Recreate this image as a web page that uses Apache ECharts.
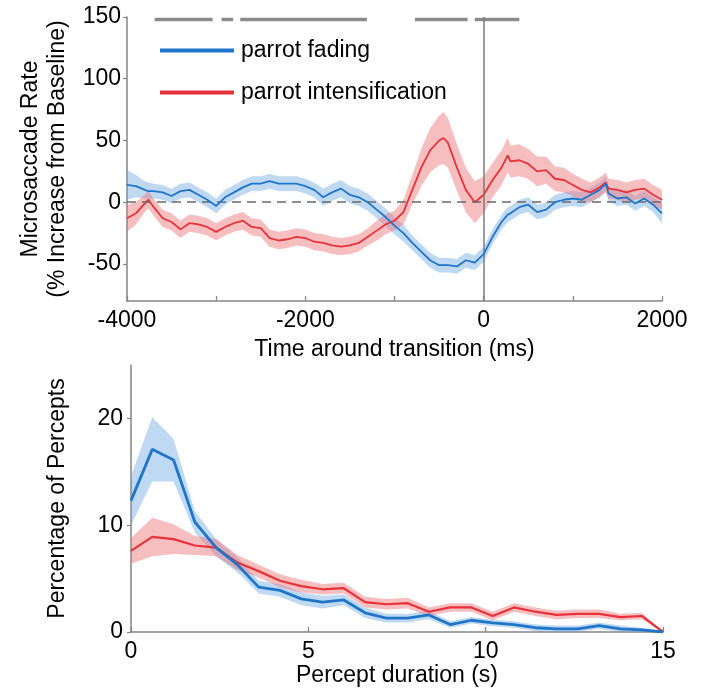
<!DOCTYPE html>
<html>
<head>
<meta charset="utf-8">
<script src="https://cdn.jsdelivr.net/npm/echarts@6/dist/echarts.min.js"></script>
<style>
html,body{margin:0;padding:0;background:#fff;}
#c{width:711px;height:688px;}
</style>
</head>
<body>
<div id="c"></div>
<script>
// ---------- Top panel data (time around transition, ms) ----------
var times = [-4000,-3900,-3800,-3760,-3700,-3600,-3500,-3400,-3300,-3200,-3100,-3000,-2900,-2800,-2700,-2600,-2500,-2400,-2300,-2200,-2100,-2000,-1900,-1800,-1700,-1600,-1500,-1400,-1300,-1200,-1100,-1000,-900,-800,-700,-600,-500,-450,-400,-300,-200,-100,0,100,200,270,300,400,500,600,700,800,900,1000,1100,1200,1300,1370,1400,1500,1600,1700,1800,1900,2000];
var fadingRate = [14,13,10,9,9,8,5,9,10,6,2,-3,4,8,12,15,15,17,15,15,15,13,10,4,8,11,6,4,0,-6,-12,-19,-25,-33,-40,-47,-51,-51,-51,-52,-47,-49,-42,-28,-16,-10,-9,-4,-2,-8,-6,0,2,3,2,6,10,15,7,3,4,-1,3,-2,-9];
var fadingErr  = [12,9,7,7,6,6,6,6,6,6,6,6,6,6,6,6,6,6,6,6,6,6,6,7,7,7,7,7,7,7,7,7,7,6,6,6,6,6,6,6,6,6,6,6,6,6,6,6,6,6,6,6,6,6,6,6,6,6,6,6,6,6,6,6,8];
var intensRate = [-13,-9,-1,2,-4,-13,-16,-22,-17,-18,-20,-24,-20,-17,-15,-20,-21,-29,-31,-30,-28,-29,-32,-33,-35,-36,-35,-33,-28,-23,-18,-15,-8,10,28,42,50,52,48,28,10,0,6,18,28,38,33,34,31,25,26,19,18,14,10,8,12,16,11,10,8,10,11,6,2];
var intensErr  = [11,9,7,7,7,7,7,7,7,7,7,7,7,7,7,7,7,7,7,7,7,7,7,7,7,7,7,7,7,8,8,8,10,12,15,18,20,21,20,19,18,17,15,14,14,14,13,13,12,12,11,10,10,9,9,8,8,8,8,8,8,8,8,8,8];
var sigSegments = [[-3690,-3040],[-2940,-2810],[-2730,-1310],[-770,-180],[-100,400]];
var sigLevel = 148;
var topYTicks = [-50,0,50,100,150];
var topXTicks = [-4000,-3000,-2000,-1000,0,1000,2000];
var topXLabels = [-4000,-2000,0,2000];

// ---------- Bottom panel data (percept duration, s) ----------
var durations = [0,0.6,1.2,1.8,2.4,3.0,3.6,4.2,4.8,5.4,6.0,6.6,7.2,7.8,8.4,9.0,9.6,10.2,10.8,11.4,12.0,12.6,13.2,13.8,14.4,15.0];
var fadingPct = [12.3,17.1,16.1,10.3,7.9,6.3,4.2,3.9,3.1,2.8,3.0,1.8,1.3,1.3,1.6,0.7,1.1,0.85,0.7,0.4,0.3,0.3,0.6,0.3,0.2,0];
var fadingPctErr = [2.3,3.0,2.0,1.0,0.8,0.7,0.6,0.6,0.6,0.6,0.5,0.5,0.4,0.4,0.4,0.3,0.3,0.3,0.3,0.3,0.3,0.3,0.3,0.3,0.2,0];
var intensPct = [7.6,8.9,8.7,8.1,7.9,6.5,5.7,4.8,4.3,4.0,4.1,2.8,2.6,2.7,1.9,2.3,2.3,1.5,2.3,1.9,1.6,1.7,1.7,1.4,1.5,0];
var intensPctErr = [1.2,1.8,1.4,0.9,0.8,0.7,0.6,0.6,0.6,0.5,0.5,0.5,0.5,0.5,0.4,0.4,0.4,0.4,0.4,0.4,0.4,0.4,0.4,0.3,0.3,0];
var bottomYTicks = [0,10,20];

var BLUE = '#1f76c8', RED = '#e8323a';
var BLUE_BAND = 'rgba(95,160,222,0.40)', RED_BAND = 'rgba(238,110,116,0.45)';
var AXIS = '#858585';
var FONT = '"Liberation Sans", Arial, sans-serif';
var FS = 23;

function pairs(xs, ys){ return xs.map(function(x,i){ return [x, ys[i]]; }); }

// Shaded error band drawn as one polygon through the axis scales (api.coord)
function band(xs, ys, es, color, xi){
  var data = xs.map(function(x,i){ return [x, ys[i]-es[i], ys[i]+es[i]]; });
  return {
    type:'custom', xAxisIndex:xi, yAxisIndex:xi, silent:true, z:1,
    encode:{x:0, y:[1,2]},
    data: data,
    renderItem: function(params, api){
      if (params.dataIndex !== 0) return null;
      var up = [], dn = [];
      for (var i=0;i<data.length;i++){
        up.push(api.coord([data[i][0], data[i][2]]));
        dn.push(api.coord([data[i][0], data[i][1]]));
      }
      return {type:'polygon', shape:{points: up.concat(dn.reverse())}, style:{fill:color}};
    }
  };
}

var sigData = [];
sigSegments.forEach(function(s){ sigData.push([s[0], sigLevel],[s[1], sigLevel],[s[1], null]); });

var textStyle = {fontFamily: FONT, fontSize: FS, color:'#000'};
function plain(v){ return String(v); }

var option = {
  animation: false,
  backgroundColor: '#fff',
  textStyle: {fontFamily: FONT},
  legend: {
    data: ['parrot fading','parrot intensification'],
    orient: 'vertical', left: 155, top: 34,
    itemWidth: 74, itemHeight: 4, itemGap: 19, icon: 'rect',
    textStyle: {fontFamily: FONT, fontSize: FS, color:'#000', padding:[0,0,0,2]},
    selectedMode: false
  },
  grid: [
    {left:127, right:49, top:17, bottom:387},
    {left:131, right:48, top:365, bottom:56}
  ],
  xAxis: [
    {type:'value', gridIndex:0, min:-4000, max:2000,
     name:'Time around transition (ms)', nameLocation:'middle', nameGap:37,
     nameTextStyle: textStyle,
     axisLine:{show:true, onZero:false, lineStyle:{color:AXIS, width:1.5}},
     axisTick:{show:true, inside:true, length:5, customValues: topXTicks, lineStyle:{color:AXIS, width:1.2}},
     axisLabel:{customValues: topXLabels, formatter: plain, margin:8, fontFamily:FONT, fontSize:FS, color:'#000'},
     splitLine:{show:false}},
    {type:'value', gridIndex:1, min:0, max:15, interval:5,
     name:'Percept duration (s)', nameLocation:'middle', nameGap:30,
     nameTextStyle: textStyle,
     axisLine:{show:true, onZero:false, lineStyle:{color:AXIS, width:1.5}},
     axisTick:{show:true, inside:true, length:5, lineStyle:{color:AXIS, width:1.2}},
     axisLabel:{formatter: plain, margin:8, fontFamily:FONT, fontSize:FS, color:'#000'},
     splitLine:{show:false}}
  ],
  yAxis: [
    {type:'value', gridIndex:0, min:-80, max:150,
     name:'Microsaccade Rate\n(% Increase from Baseline)', nameLocation:'middle', nameGap:56, nameRotate:90,
     nameTextStyle: {fontFamily:FONT, fontSize:FS, color:'#000', lineHeight:27},
     axisLine:{show:true, onZero:false, lineStyle:{color:AXIS, width:1.5}},
     axisTick:{show:true, inside:false, length:4, customValues: topYTicks, lineStyle:{color:AXIS, width:1.2}},
     axisLabel:{customValues: topYTicks, formatter: plain, margin:6, fontFamily:FONT, fontSize:FS, color:'#000'},
     splitLine:{show:false}},
    {type:'value', gridIndex:1, min:0, max:25,
     name:'Percentage of Percepts', nameLocation:'middle', nameGap:62, nameRotate:90,
     nameTextStyle: textStyle,
     axisLine:{show:true, onZero:false, lineStyle:{color:AXIS, width:1.5}},
     axisTick:{show:true, inside:false, length:4, customValues: bottomYTicks, lineStyle:{color:AXIS, width:1.2}},
     axisLabel:{customValues: bottomYTicks, formatter: plain, margin:8, fontFamily:FONT, fontSize:FS, color:'#000'},
     splitLine:{show:false}}
  ],
  series: [
    band(times,fadingRate,fadingErr,BLUE_BAND,0),
    band(times,intensRate,intensErr,RED_BAND,0),
    {name:'sig', type:'line', xAxisIndex:0, yAxisIndex:0, data:sigData, connectNulls:false,
     symbol:'none', lineStyle:{color:'#8a8a8a', width:3.5}, silent:true, z:3,
     markLine:{symbol:'none', silent:true, label:{show:false},
       data:[
         {xAxis:0, lineStyle:{color:'#7a7a7a', type:'solid', width:1.5}},
         {yAxis:0, lineStyle:{color:'#6a6a6a', type:[9,6], width:1.5}}
       ]}},
    {name:'parrot intensification', type:'line', xAxisIndex:0, yAxisIndex:0, data:pairs(times,intensRate),
     symbol:'none', color:RED, lineStyle:{color:RED, width:1.8}, z:4},
    {name:'parrot fading', type:'line', xAxisIndex:0, yAxisIndex:0, data:pairs(times,fadingRate),
     symbol:'none', color:BLUE, lineStyle:{color:BLUE, width:1.8}, z:5},
    band(durations,fadingPct,fadingPctErr,BLUE_BAND,1),
    band(durations,intensPct,intensPctErr,RED_BAND,1),
    {name:'intens2', type:'line', xAxisIndex:1, yAxisIndex:1, data:pairs(durations,intensPct),
     symbol:'none', lineStyle:{color:RED, width:2.2}, z:4},
    {name:'fading2', type:'line', xAxisIndex:1, yAxisIndex:1, data:pairs(durations,fadingPct),
     symbol:'none', lineStyle:{color:BLUE, width:2.8}, z:5}
  ]
};

var chart = echarts.init(document.getElementById('c'), null, {renderer:'canvas'});
chart.setOption(option);
</script>
</body>
</html>
